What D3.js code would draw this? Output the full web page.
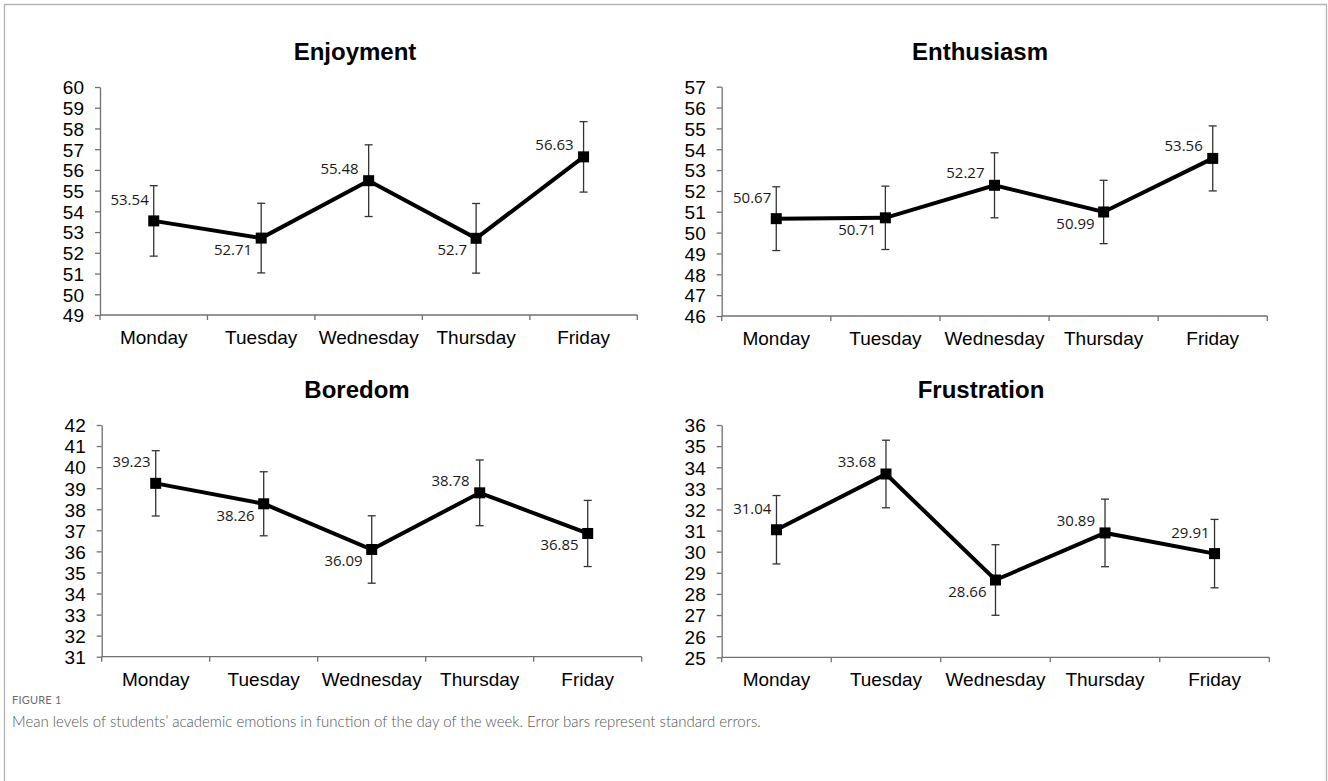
<!DOCTYPE html>
<html>
<head>
<meta charset="utf-8">
<script src="https://cdn.jsdelivr.net/npm/d3@7/dist/d3.min.js"></script>
<style>
  html, body { margin: 0; padding: 0; background: #fff; }
  svg { display: block; }
</style>
</head>
<body>
<svg id="fig" width="1328" height="781"></svg>
<script>
// Day-of-week categories shared by all four panels
const days = ["Monday", "Tuesday", "Wednesday", "Thursday", "Friday"];

// Mean emotion scores and standard errors per day
const enjoymentMeans   = [53.54, 52.71, 55.48, 52.7, 56.63];
const enjoymentSE      = [1.70, 1.68, 1.73, 1.68, 1.70];
const enthusiasmMeans  = [50.67, 50.71, 52.27, 50.99, 53.56];
const enthusiasmSE     = [1.53, 1.52, 1.56, 1.52, 1.56];
const boredomMeans     = [39.23, 38.26, 36.09, 38.78, 36.85];
const boredomSE        = [1.55, 1.52, 1.60, 1.56, 1.57];
const frustrationMeans = [31.04, 33.68, 28.66, 30.89, 29.91];
const frustrationSE    = [1.62, 1.60, 1.67, 1.60, 1.62];

// Y-axis tick labels for each panel
const enjoymentTicks   = [49, 50, 51, 52, 53, 54, 55, 56, 57, 58, 59, 60];
const enthusiasmTicks  = [46, 47, 48, 49, 50, 51, 52, 53, 54, 55, 56, 57];
const boredomTicks     = [31, 32, 33, 34, 35, 36, 37, 38, 39, 40, 41, 42];
const frustrationTicks = [25, 26, 27, 28, 29, 30, 31, 32, 33, 34, 35, 36];

// Where each value label sits relative to its marker
const labelAnchor = {
  nw: { dx: -5,  dy: -16 },
  w:  { dx: -10, dy: -7 },
  sw: { dx: -9,  dy: 17 }
};

const panels = [
  { title: "Enjoyment", means: enjoymentMeans, se: enjoymentSE, ticks: enjoymentTicks,
    x0: 100, x1: 637.3, yTop: 87, yBot: 315, titleX: 355, titleY: 59.5,
    anchors: ["nw", "sw", "w", "sw", "w"] },
  { title: "Enthusiasm", means: enthusiasmMeans, se: enthusiasmSE, ticks: enthusiasmTicks,
    x0: 721.7, x1: 1267.3, yTop: 86.7, yBot: 316, titleX: 980, titleY: 59.5,
    anchors: ["nw", "sw", "w", "sw", "w"] },
  { title: "Boredom", means: boredomMeans, se: boredomSE, ticks: boredomTicks,
    x0: 101.7, x1: 641.7, yTop: 425, yBot: 656.7, titleX: 357, titleY: 398.3,
    anchors: ["nw", "sw", "sw", "w", "sw"] },
  { title: "Frustration", means: frustrationMeans, se: frustrationSE, ticks: frustrationTicks,
    x0: 721.7, x1: 1269.3, yTop: 425, yBot: 657.3, titleX: 981, titleY: 398.3,
    anchors: ["nw", "w", "sw", "w", "nw"] }
];

const svg = d3.select("#fig");

// Outer figure frame (open at the bottom edge)
svg.append("path")
  .attr("d", "M4.5,790 V4.5 H1326.5 V790")
  .attr("fill", "none")
  .attr("stroke", "#b3b3b3")
  .attr("stroke-width", 1.3);

const axisColor = "#707070";
const tickFont = "'Liberation Sans', Arial, sans-serif";

panels.forEach(p => {
  const g = svg.append("g");
  const x = d3.scaleBand().domain(days).range([p.x0, p.x1]).padding(0);
  const y = d3.scaleLinear().domain(d3.extent(p.ticks)).range([p.yBot, p.yTop]);
  const cx = d => x(d) + x.bandwidth() / 2;

  // Panel title
  g.append("text")
    .attr("x", p.titleX).attr("y", p.titleY)
    .attr("text-anchor", "middle")
    .style("font-family", tickFont)
    .style("font-weight", "bold")
    .style("font-size", "24px")
    .attr("fill", "#000")
    .text(p.title);

  // Y axis
  const yAxis = d3.axisLeft(y).tickValues(p.ticks).tickSize(5).tickSizeOuter(0).tickPadding(11)
    .tickFormat(d3.format("d"));
  const ya = g.append("g").attr("transform", `translate(${p.x0},0)`).call(yAxis);
  ya.select(".domain").attr("stroke", axisColor).attr("stroke-width", 1.3);
  ya.selectAll(".tick line").attr("stroke", axisColor).attr("stroke-width", 1.3);
  ya.selectAll(".tick text")
    .style("font-family", tickFont).style("font-size", "19px").attr("fill", "#000")
    .attr("dy", "0.36em");

  // X axis: line, boundary ticks between days, centred day labels
  const xa = g.append("g").attr("transform", `translate(0,${p.yBot})`);
  xa.append("line").attr("x1", p.x0).attr("x2", p.x1)
    .attr("stroke", axisColor).attr("stroke-width", 1.3);
  const bounds = days.map(d => x(d)).concat([p.x1]);
  xa.selectAll(".bt").data(bounds).join("line")
    .attr("x1", d => d).attr("x2", d => d).attr("y1", 0).attr("y2", 5)
    .attr("stroke", axisColor).attr("stroke-width", 1.3);
  xa.selectAll(".dl").data(days).join("text")
    .attr("x", d => cx(d)).attr("y", 29)
    .attr("text-anchor", "middle")
    .style("font-family", tickFont).style("font-size", "19px").attr("fill", "#000")
    .text(d => d);

  const pts = days.map((d, i) => ({ day: d, v: p.means[i], se: p.se[i], a: p.anchors[i] }));

  // Standard-error bars with caps
  const eb = g.append("g").attr("stroke", "#333").attr("stroke-width", 1.3).attr("fill", "none");
  pts.forEach(pt => {
    const X = cx(pt.day), yh = y(pt.v + pt.se), yl = y(pt.v - pt.se);
    eb.append("line").attr("x1", X).attr("x2", X).attr("y1", yh).attr("y2", yl);
    eb.append("line").attr("x1", X - 4).attr("x2", X + 4).attr("y1", yh).attr("y2", yh);
    eb.append("line").attr("x1", X - 4).attr("x2", X + 4).attr("y1", yl).attr("y2", yl);
  });

  // Mean line
  const line = d3.line().x(d => cx(d.day)).y(d => y(d.v));
  g.append("path").datum(pts)
    .attr("d", line)
    .attr("fill", "none").attr("stroke", "#000").attr("stroke-width", 4)
    .attr("stroke-linejoin", "miter");

  // Square markers
  const ms = 11;
  g.selectAll(".mk").data(pts).join("rect")
    .attr("x", d => cx(d.day) - ms / 2).attr("y", d => y(d.v) - ms / 2)
    .attr("width", ms).attr("height", ms).attr("fill", "#000");

  // Value labels
  g.selectAll(".vl").data(pts).join("text")
    .attr("x", d => cx(d.day) + labelAnchor[d.a].dx)
    .attr("y", d => y(d.v) + labelAnchor[d.a].dy)
    .attr("text-anchor", "end")
    .style("font-family", "'Open Sans', sans-serif")
    .style("font-size", "15px")
    .attr("fill", "#1a1a1a")
    .text(d => d.v);
});

// Figure caption
svg.append("text")
  .attr("x", 12).attr("y", 704)
  .style("font-family", "Lato, 'Open Sans', sans-serif")
  .style("font-size", "11px")
  .style("letter-spacing", "0.2px")
  .attr("fill", "#6b6b6b")
  .text("FIGURE 1");

svg.append("text")
  .attr("x", 12).attr("y", 727)
  .style("font-family", "Lato, 'Open Sans', sans-serif")
  .style("font-weight", "300")
  .style("font-size", "15px")
  .attr("fill", "#555")
  .text("Mean levels of students\u2019 academic emotions in function of the day of the week. Error bars represent standard errors.");
</script>
</body>
</html>
